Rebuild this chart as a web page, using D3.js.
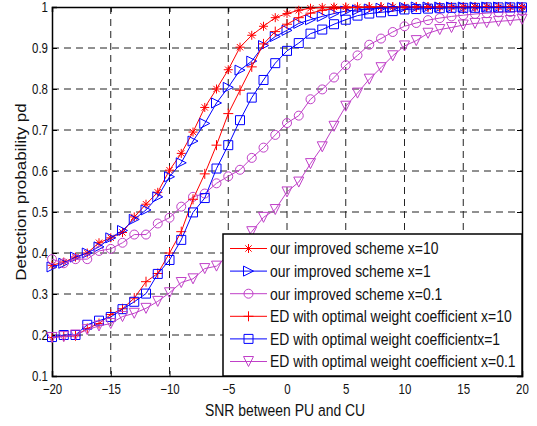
<!DOCTYPE html>
<html lang="en">
<head>
<meta charset="UTF-8">
<title>Detection probability vs SNR</title>
<script src="https://d3js.org/d3.v7.min.js"></script>
<style>
    body { margin: 0; background: #fff; }
    svg { display: block; }
    text { font-family: "Liberation Sans", Arial, sans-serif; fill: #111; }
</style>
</head>
<body>
<div id="chart"></div>
<script>
    // SNR between PU and CU (dB)
    const snr = [-20, -19, -18, -17, -16, -15, -14, -13, -12, -11, -10, -9, -8, -7, -6, -5, -4, -3, -2, -1,
        0, 1, 2, 3, 4, 5, 6, 7, 8, 9, 10, 11, 12, 13, 14, 15, 16, 17, 18, 19, 20];

    const improvedX10 = [.370, .378, .390, .400, .425, .437, .450, .488, .519, .548, .602, .643, .695, .755, .800, .847, .902, .931, .953, .974,
        .984, .992, .997, .999, 1, 1, 1, 1, 1, 1, 1, 1, 1, 1, 1, 1, 1, 1, 1, 1, 1];
    const improvedX1 = [.366, .375, .390, .400, .415, .437, .455, .482, .505, .537, .586, .620, .673, .716, .766, .804, .846, .868, .906, .928,
        .943, .960, .969, .977, .984, .990, .993, .995, .997, .998, .999, 1, 1, 1, 1, 1, 1, 1, 1, 1, 1];
    const improvedX01 = [.385, .375, .385, .385, .405, .410, .425, .445, .445, .472, .486, .513, .537, .545, .570, .587, .603, .632, .657, .688,
        .717, .735, .775, .799, .828, .858, .882, .908, .923, .939, .953, .961, .968, .973, .977, .980, .983, .985, .987, .988, .990];
    const edX10 = [.194, .197, .198, .216, .228, .250, .264, .290, .330, .350, .400, .452, .531, .593, .663, .740, .797, .854, .910, .940,
        .958, .974, .985, .992, .996, .998, .999, 1, 1, 1, 1, 1, 1, 1, 1, 1, 1, 1, 1, 1, 1];
    const edX1 = [.195, .200, .200, .225, .235, .244, .263, .281, .301, .349, .383, .432, .499, .534, .606, .663, .724, .779, .822, .863,
        .893, .912, .935, .945, .958, .969, .979, .984, .987, .990, .994, .995, .996, .997, .998, .998, .998, .999, .999, .999, .999];
    const edX01 = [.194, .196, .200, .213, .222, .228, .245, .253, .265, .282, .303, .328, .337, .362, .368, .395, .420, .452, .487, .506,
        .549, .573, .618, .659, .709, .758, .790, .824, .852, .881, .905, .918, .936, .945, .950, .956, .960, .962, .965, .967, .970];

    const legendLabels = [
        "our improved scheme x=10",
        "our improved scheme x=1",
        "our improved scheme x=0.1",
        "ED with optimal weight coefficient x=10",
        "ED with optimal weight coefficientx=1",
        "ED with optimal weight coefficient x=0.1"
    ];
    const xTicks = [-20, -15, -10, -5, 0, 5, 10, 15, 20];
    const yTicks = [0.1, 0.2, 0.3, 0.4, 0.5, 0.6, 0.7, 0.8, 0.9, 1];

    const series = [
        { values: improvedX10, color: "#ff0000", marker: "star" },
        { values: improvedX1, color: "#0000ff", marker: "triRight" },
        { values: improvedX01, color: "#c040c8", marker: "circle" },
        { values: edX10, color: "#ff0000", marker: "plus" },
        { values: edX1, color: "#0000ff", marker: "square" },
        { values: edX01, color: "#c040c8", marker: "triDown" }
    ];

    const width = 537, height = 426;
    const margin = { top: 7, right: 15, bottom: 50, left: 52 };
    const sx = 0.82; // the figure is squeezed sideways

    const svg = d3.select("#chart").append("svg")
        .attr("width", width)
        .attr("height", height);

    const x = d3.scaleLinear().domain([-20, 20]).range([margin.left, width - margin.right]);
    const y = d3.scaleLinear().domain([0.1, 1]).range([height - margin.bottom, margin.top]);

    // dashed grid
    const grid = svg.append("g").attr("stroke", "#222").attr("stroke-width", 1).attr("stroke-dasharray", "7,5");
    grid.selectAll(".vg").data(xTicks.slice(1, -1)).join("line")
        .attr("x1", d => x(d)).attr("x2", d => x(d))
        .attr("y1", y(1)).attr("y2", y(0.1));
    grid.selectAll(".hg").data(yTicks.slice(1, -1)).join("line")
        .attr("y1", d => y(d)).attr("y2", d => y(d))
        .attr("x1", x(-20)).attr("x2", x(20));

    // axes, matlab style ticks pointing in
    const xAxis = svg.append("g")
        .attr("transform", `translate(0,${y(0.1)})`)
        .call(d3.axisBottom(x).tickValues(xTicks).tickSize(-5).tickPadding(10).tickFormat(d3.format("d")));
    const yAxis = svg.append("g")
        .attr("transform", `translate(${x(-20)},0)`)
        .call(d3.axisLeft(y).tickValues(yTicks).tickSize(-5).tickPadding(4).tickFormat(d => d === 1 ? "1" : d3.format(".1f")(d)));
    svg.append("g")
        .attr("transform", `translate(0,${y(1)})`)
        .call(d3.axisTop(x).tickValues(xTicks).tickSize(-5).tickFormat(""));
    svg.append("g")
        .attr("transform", `translate(${x(20)},0)`)
        .call(d3.axisRight(y).tickValues(yTicks).tickSize(-5).tickFormat(""));

    svg.selectAll(".domain").attr("stroke", "#000").attr("stroke-width", 1.5);
    svg.selectAll(".tick line").attr("stroke", "#000");
    xAxis.selectAll("text").attr("font-size", 14).attr("transform", `scale(${sx},1)`)
        .attr("x", 0).attr("dy", "0.6em");
    yAxis.selectAll("text").attr("font-size", 14).attr("transform", `scale(${sx},1)`)
        .attr("x", -4 / sx);

    // marker paths
    function markerPath(type, s) {
        switch (type) {
            case "star": {
                const d = s * 0.7;
                return `M${-s},0H${s}M0,${-s}V${s}M${-d},${-d}L${d},${d}M${-d},${d}L${d},${-d}`;
            }
            case "plus": return `M${-s},0H${s}M0,${-s}V${s}`;
            case "circle": return `M${s},0A${s},${s} 0 1,1 ${-s},0A${s},${s} 0 1,1 ${s},0Z`;
            case "square": return `M${-s},${-s}H${s}V${s}H${-s}Z`;
            case "triRight": return `M${s},0L${-s},${-s}L${-s},${s}Z`;
            case "triDown": return `M0,${s}L${-s},${-s}L${s},${-s}Z`;
        }
    }
    const markerSize = { star: 4.5, plus: 5, circle: 4.5, square: 4.5, triRight: 5, triDown: 5 };

    const line = d3.line().x((d, i) => x(snr[i])).y(d => y(d));

    series.forEach(s => {
        const g = svg.append("g");
        g.append("path").datum(s.values)
            .attr("d", line)
            .attr("fill", "none")
            .attr("stroke", s.color)
            .attr("stroke-width", 1);
        g.selectAll("path.m").data(s.values).join("path")
            .attr("class", "m")
            .attr("transform", (d, i) => `translate(${x(snr[i])},${y(d)})`)
            .attr("d", markerPath(s.marker, markerSize[s.marker]))
            .attr("fill", "none")
            .attr("stroke", s.color)
            .attr("stroke-width", 1);
    });

    // legend
    const lg = svg.append("g").attr("transform", "translate(223,234)");
    lg.append("rect")
        .attr("width", 299).attr("height", 142)
        .attr("fill", "#fff").attr("stroke", "#000").attr("stroke-width", 1.5);
    const item = lg.selectAll("g.item").data(series).join("g")
        .attr("transform", (d, i) => `translate(0,${14.5 + i * 22.6})`);
    item.append("line")
        .attr("x1", 7).attr("x2", 44)
        .attr("stroke", d => d.color).attr("stroke-width", 1);
    item.append("path")
        .attr("transform", "translate(25.5,0)")
        .attr("d", d => markerPath(d.marker, markerSize[d.marker]))
        .attr("fill", "none").attr("stroke", d => d.color);
    item.append("text")
        .attr("transform", `translate(47,0) scale(${sx},1)`)
        .attr("dy", "0.35em")
        .attr("font-size", 17)
        .text((d, i) => legendLabels[i]);

    // axis titles
    svg.append("text")
        .attr("transform", `translate(285,416) scale(${sx},1)`)
        .attr("text-anchor", "middle")
        .attr("font-size", 17)
        .text("SNR between PU and CU");
    svg.append("text")
        .attr("transform", `translate(26,192) scale(${sx},1) rotate(-90)`)
        .attr("text-anchor", "middle")
        .attr("font-size", 17)
        .text("Detection probability pd");
</script>
</body>
</html>
